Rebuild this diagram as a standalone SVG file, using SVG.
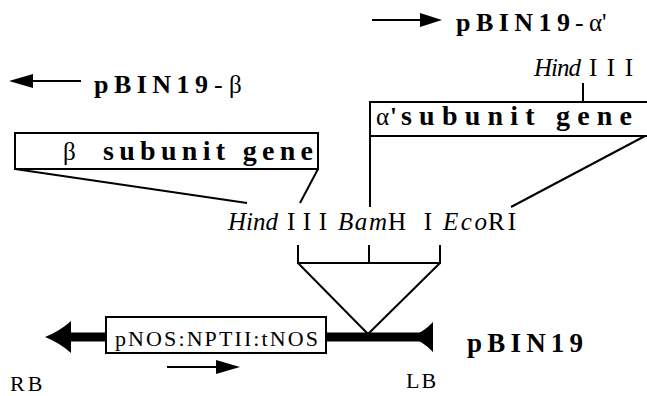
<svg xmlns="http://www.w3.org/2000/svg" width="647" height="396" viewBox="0 0 647 396">
<defs>
<style>
.ln{stroke:#000;stroke-width:2;fill:none}
.bx{stroke:#000;stroke-width:2;fill:#fff}
.bd{font-family:"Liberation Serif","Times New Roman",serif;font-weight:bold;fill:#000}
.rs{font-family:"Liberation Serif","Times New Roman",serif;fill:#000}
.it{font-style:italic}
.hd{fill:#000}
</style>
</defs>
<rect width="647" height="396" fill="#fff"/>

<g id="connectors">
  <line class="ln" x1="15" y1="169" x2="247" y2="203"/>
  <line class="ln" x1="318" y1="169" x2="300" y2="203"/>
  <line class="ln" x1="370" y1="136" x2="370" y2="207"/>
  <line class="ln" x1="645" y1="136" x2="511" y2="207"/>
  <line class="ln" x1="583" y1="83" x2="583" y2="102"/>
  <path class="ln" d="M298,245 V263 H440 V245 M369,245 V263 M298,263 L368,334 L440,263"/>
</g>

<g id="arrow-beta">
  <line class="ln" x1="30" y1="81" x2="81" y2="81"/>
  <polygon class="hd" points="9,81 33,74 33,88"/>
  <text class="bd" x="94" y="93" font-size="26" textLength="114" lengthAdjust="spacing">pBIN19</text>
  <text class="rs" x="214" y="93" font-size="26">-</text>
  <text class="rs" x="229" y="93" font-size="25">β</text>
</g>

<g id="arrow-alpha">
  <line class="ln" x1="372" y1="20" x2="422" y2="20"/>
  <polygon class="hd" points="442,20 420,13 420,27"/>
  <text class="bd" x="456" y="31" font-size="26" textLength="114" lengthAdjust="spacing">pBIN19</text>
  <text class="rs" x="575" y="31" font-size="26">-</text>
  <text class="rs" x="589" y="31" font-size="25">α'</text>
</g>

<g id="beta-gene">
  <rect class="bx" x="15" y="133" width="303" height="36"/>
  <text class="rs" x="63" y="160" font-size="25">β</text>
  <text class="bd" x="103" y="160" font-size="28" textLength="210" lengthAdjust="spacing">subunit gene</text>
</g>

<g id="alpha-gene">
  <path class="ln" d="M648,102 H370 V136 H648"/>
  <text class="rs" x="376" y="125" font-size="25">α</text>
  <text class="bd" x="390" y="125" font-size="25">'</text>
  <text class="bd" x="401" y="125" font-size="28" textLength="231" lengthAdjust="spacing">subunit gene</text>
</g>

<g id="hind-top">
  <text class="rs it" x="534" y="76" font-size="25" textLength="47" lengthAdjust="spacing">Hind</text>
  <text class="rs" x="589" y="76" font-size="25" textLength="44" lengthAdjust="spacing">III</text>
</g>

<g id="sites">
  <text class="rs it" x="228" y="230" font-size="25" textLength="50" lengthAdjust="spacing">Hind</text>
  <text class="rs" x="287" y="230" font-size="25" textLength="40" lengthAdjust="spacing">III</text>
  <text class="rs it" x="338" y="230" font-size="25" textLength="49" lengthAdjust="spacing">Bam</text>
  <text class="rs" x="388" y="230" font-size="25" textLength="44" lengthAdjust="spacing">HI</text>
  <text class="rs it" x="443" y="230" font-size="25" textLength="44" lengthAdjust="spacing">Eco</text>
  <text class="rs" x="488" y="230" font-size="25" textLength="28" lengthAdjust="spacing">RI</text>
</g>

<g id="backbone">
  <line stroke="#000" stroke-width="9" x1="68" y1="337" x2="432" y2="337"/>
  <path class="hd" d="M45,337 Q60,331 71,321 L71,353 Q60,343 45,337 Z"/>
  <path class="hd" d="M410,337 Q424,332 433,322 L433,352 Q424,342 410,337 Z"/>
</g>

<g id="nptii">
  <rect class="bx" x="106" y="317" width="220" height="36"/>
  <text class="rs" x="115" y="346" font-size="22" textLength="203" lengthAdjust="spacing">pNOS:NPTII:tNOS</text>
  <line class="ln" x1="167" y1="367" x2="218" y2="367"/>
  <polygon class="hd" points="240,367 216,360 216,374"/>
</g>

<g id="labels">
  <text class="rs" x="10" y="391" font-size="22" letter-spacing="3">RB</text>
  <text class="rs" x="406" y="388" font-size="22" letter-spacing="2">LB</text>
  <text class="bd" x="467" y="352" font-size="27" textLength="116" lengthAdjust="spacing">pBIN19</text>
</g>
</svg>
